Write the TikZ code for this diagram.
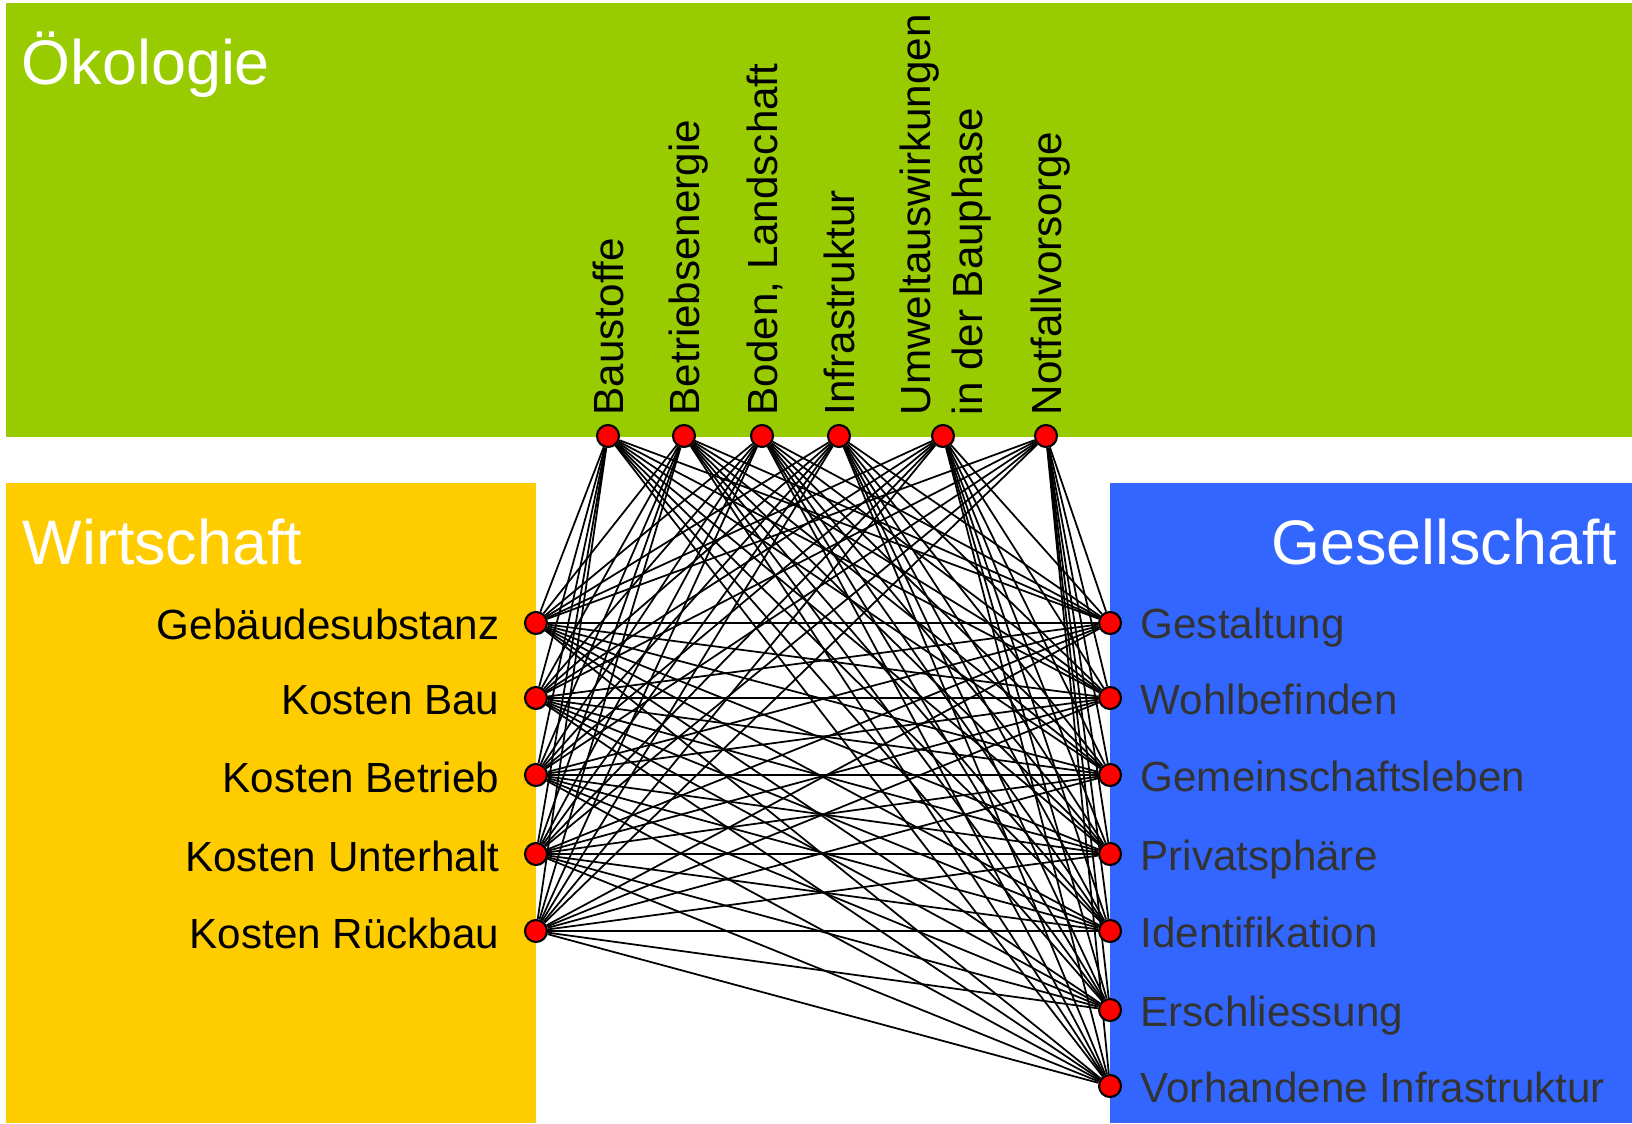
\documentclass[tikz,border=0pt]{standalone}
\usepackage{fontspec}
\setmainfont{Liberation Sans}
\usetikzlibrary{positioning}

\definecolor{oekogreen}{HTML}{99CC00}
\definecolor{wirtyellow}{HTML}{FFCC00}
\definecolor{gesblue}{HTML}{3366FF}
\definecolor{labelgray}{HTML}{333333}

\pgfdeclarelayer{back}
\pgfsetlayers{back,main}

\tikzset{
	dot/.style={circle,draw=black,fill=red,line width=0.6pt,minimum size=2.2mm,inner sep=0pt},
	title/.style={text=white,font=\fontsize{17.9}{20}\selectfont,inner sep=0pt},
	item/.style={font=\fontsize{12}{14.8}\selectfont,inner sep=0pt},
	link/.style={line width=0.5pt}
}

\begin{document}
\begin{tikzpicture}
		\useasboundingbox (0,0) rectangle (16.32,11.23);
		\begin{pgfonlayer}{back}
			\fill[oekogreen] (0.06,6.86) rectangle (16.32,11.20);
			\fill[wirtyellow] (0.06,0) rectangle (5.36,6.40);
			\fill[gesblue] (11.10,0) rectangle (16.32,6.40);
		\end{pgfonlayer}
		\node[title,anchor=base west] (toeko) at (0.21,10.38) {Ökologie};
		\node[title,anchor=base west] (twirt) at (0.22,5.58) {Wirtschaft};
		\node[title,anchor=base east] (tges) at (16.18,5.58) {Gesellschaft};
		% Punkte
		\foreach \x [count=\i] in {6.08,6.84,7.62,8.39,9.43,10.46}
			\node[dot] (o\i) at (\x,6.87) {};
		\foreach \y [count=\i] in {5.00,4.25,3.48,2.69,1.92}
			\node[dot] (w\i) at (5.36,\y) {};
		\foreach \y [count=\i] in {5.00,4.25,3.48,2.69,1.92,1.13,0.37}
			\node[dot] (g\i) at (11.10,\y) {};
		% Ökologie
		\node[item,rotate=90,anchor=base west] (lo1) at ([xshift=1.5mm,yshift=2mm]o1.center) {Baustoffe};
		\node[item,rotate=90,anchor=base west] (lo2) at ([xshift=1.5mm,yshift=2mm]o2.center) {Betriebsenergie};
		\node[item,rotate=90,anchor=base west] (lo3) at ([xshift=1.5mm,yshift=2mm]o3.center) {Boden, Landschaft};
		\node[item,rotate=90,anchor=base west] (lo4) at ([xshift=1.5mm,yshift=2mm]o4.center) {Infrastruktur};
		\node[item,rotate=90,anchor=base west,align=left] (lo5) at ([xshift=3.9mm,yshift=2mm]o5.center) {Umweltauswirkungen\\in der Bauphase};
		\node[item,rotate=90,anchor=base west] (lo6) at ([xshift=1.5mm,yshift=2mm]o6.center) {Notfallvorsorge};
		% Wirtschaft
		\node[item,anchor=base east] (lw1) at ([xshift=-3.6mm,yshift=-1.7mm]w1.center) {Gebäudesubstanz};
		\node[item,anchor=base east] (lw2) at ([xshift=-3.6mm,yshift=-1.7mm]w2.center) {Kosten Bau};
		\node[item,anchor=base east] (lw3) at ([xshift=-3.6mm,yshift=-1.7mm]w3.center) {Kosten Betrieb};
		\node[item,anchor=base east] (lw4) at ([xshift=-3.6mm,yshift=-1.7mm]w4.center) {Kosten Unterhalt};
		\node[item,anchor=base east] (lw5) at ([xshift=-3.6mm,yshift=-1.7mm]w5.center) {Kosten Rückbau};
		% Gesellschaft
		\node[item,text=labelgray,anchor=base west] (lg1) at ([xshift=3mm,yshift=-1.6mm]g1.center) {Gestaltung};
		\node[item,text=labelgray,anchor=base west] (lg2) at ([xshift=3mm,yshift=-1.6mm]g2.center) {Wohlbefinden};
		\node[item,text=labelgray,anchor=base west] (lg3) at ([xshift=3mm,yshift=-1.6mm]g3.center) {Gemeinschaftsleben};
		\node[item,text=labelgray,anchor=base west] (lg4) at ([xshift=3mm,yshift=-1.6mm]g4.center) {Privatsphäre};
		\node[item,text=labelgray,anchor=base west] (lg5) at ([xshift=3mm,yshift=-1.6mm]g5.center) {Identifikation};
		\node[item,text=labelgray,anchor=base west] (lg6) at ([xshift=3mm,yshift=-1.6mm]g6.center) {Erschliessung};
		\node[item,text=labelgray,anchor=base west] (lg7) at ([xshift=3mm,yshift=-1.6mm]g7.center) {Vorhandene Infrastruktur};
		% Verbindungen
		\begin{pgfonlayer}{back}
			\foreach \a in {1,...,6}{
				\foreach \b in {1,...,5} \draw[link] (o\a) -- (w\b);
				\foreach \b in {1,...,7} \draw[link] (o\a) -- (g\b);
			}
			\foreach \a in {1,...,5}
				\foreach \b in {1,...,7} \draw[link] (w\a) -- (g\b);
		\end{pgfonlayer}
	\end{tikzpicture}
\end{document}
